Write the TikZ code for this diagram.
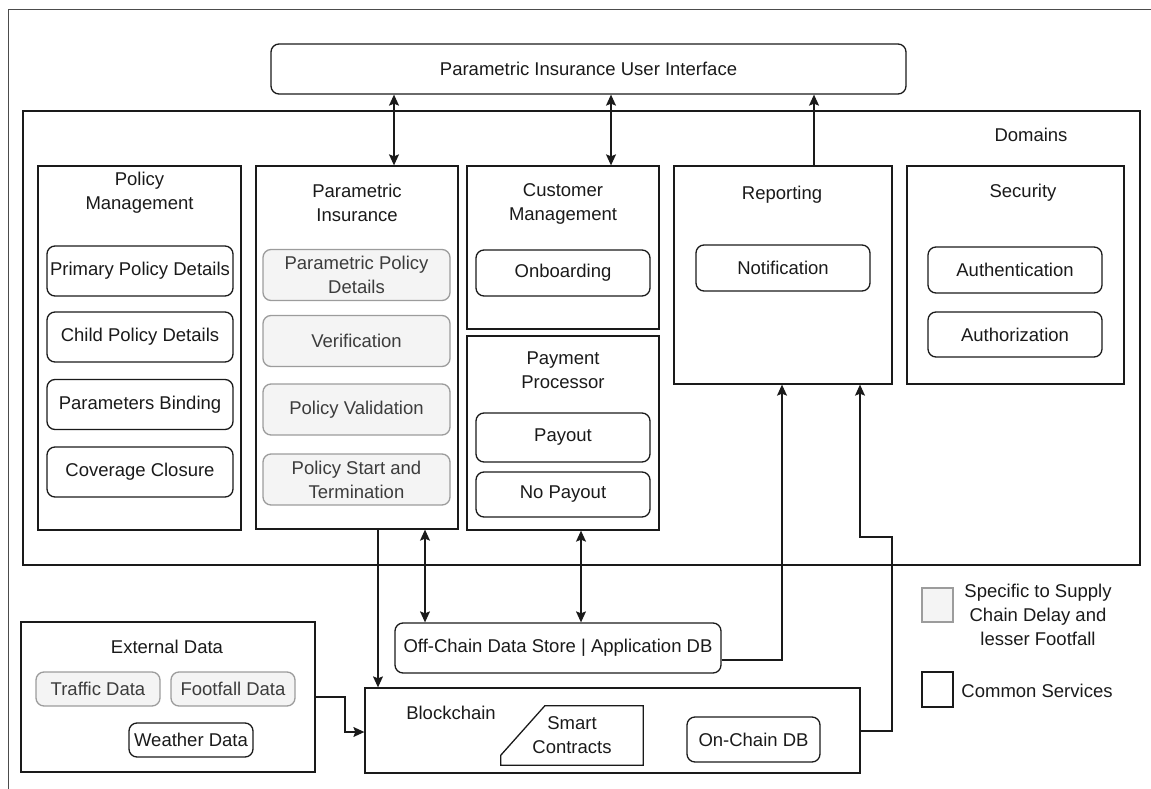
\documentclass[tikz,border=0pt]{standalone}
\usepackage{fontspec}
\setmainfont{Liberation Sans}
\usetikzlibrary{arrows.meta}

\definecolor{ink}{HTML}{1A1A1A}
\definecolor{specfill}{HTML}{F4F4F4}
\definecolor{specline}{HTML}{9C9C9C}
\definecolor{spectext}{HTML}{3C3C3C}

\tikzset{
  grp/.style={draw=ink, line width=1.3pt, inner sep=0pt},
  svc/.style={draw=ink, line width=1.3pt, rounded corners=8pt, align=center, inner sep=0pt},
  spec/.style={svc, draw=specline, fill=specfill, text=spectext},
  ttl/.style={align=center},
  arr/.style={-{Stealth[length=11pt,width=10pt,inset=2pt]}, line width=1.2pt, draw=ink},
  dbl/.style={{Stealth[length=11pt,width=10pt,inset=2pt]}-{Stealth[length=11pt,width=10pt,inset=2pt]}, line width=1.2pt, draw=ink},
}

\begin{document}
\begin{tikzpicture}[x=1pt, y=-1pt, font=\fontsize{18.5}{24}\selectfont, text=ink]
\useasboundingbox (0,0) rectangle (1151,789);
\draw[line width=1pt, black!70] (1151,10) -- (8,10) -- (8,789); % page frame

% top: user interface and the domains frame
\node[svc, minimum width=635pt, minimum height=50pt] (ui) at (588.5,69) {Parametric Insurance User Interface};
\node[grp, minimum width=1117pt, minimum height=454pt] (dom) at (581.5,338) {};
\node (domT) at (1031,135) {Domains};

% policy management
\node[grp, minimum width=203pt, minimum height=364pt] (pm) at (139.5,348) {};
\node[ttl] (pmT) at (139.5,193) {Policy\\Management};
\foreach \name/\y/\txt in {prim/271/Primary Policy Details, child/337/Child Policy Details,
    bind/404.5/Parameters Binding, cover/472/Coverage Closure}
  \node[svc, minimum width=186pt, minimum height=50pt] (\name) at (140,\y) {\txt};

% parametric insurance
\node[grp, minimum width=202pt, minimum height=363pt] (pi) at (357,347.5) {};
\node[ttl] (piT) at (357,203) {Parametric\\Insurance};
\foreach \name/\y/\txt in {ppd/275/{Parametric Policy\\Details}, verif/341/Verification,
    valid/409.5/Policy Validation, term/479.5/{Policy Start and\\Termination}}
  \node[spec, minimum width=187pt, minimum height=51pt] (\name) at (356.5,\y) {\txt};

% customer management + payment processor
\node[grp, minimum width=192pt, minimum height=163pt] (cm) at (563,247.5) {};
\node[ttl] (cmT) at (563,204) {Customer\\Management};
\node[svc, minimum width=174pt, minimum height=46pt] (onb) at (563,273) {Onboarding};
\node[grp, minimum width=192pt, minimum height=194pt] (pp) at (563,433) {};
\node[ttl] (ppT) at (563,370) {Payment\\Processor};
\node[svc, minimum width=174pt, minimum height=49pt] (pay) at (563,437.5) {Payout};
\node[svc, minimum width=174pt, minimum height=45pt] (nopay) at (563,494.5) {No Payout};

% reporting and security
\node[grp, minimum width=218pt, minimum height=218pt] (rep) at (783,275) {};
\node (repT) at (782,195) {Reporting};
\node[svc, minimum width=174pt, minimum height=46pt] (notif) at (783,268) {Notification};
\node[grp, minimum width=217pt, minimum height=218pt] (sec) at (1015.5,275) {};
\node (secT) at (1023,193) {Security};
\node[svc, minimum width=174pt, minimum height=46pt] (authn) at (1015,270) {Authentication};
\node[svc, minimum width=174pt, minimum height=45pt] (authz) at (1015,334.5) {Authorization};

% data stores and chain
\node[svc, minimum width=326pt, minimum height=50pt] (off) at (558,648) {Off-Chain Data Store | Application DB};
\node[grp, minimum width=495pt, minimum height=85pt] (bc) at (612.5,730.5) {};
\node (bcT) at (451,713) {Blockchain};
\node[align=center, minimum width=142pt, minimum height=59pt, inner sep=0pt] (sc) at (572,735.5) {Smart\\Contracts};
\draw[line width=1.3pt, ink] ([yshift=10pt]sc.south west) -- ([xshift=44pt]sc.north west)
  -- (sc.north east) -- (sc.south east) -- (sc.south west) -- cycle;
\node[svc, minimum width=133pt, minimum height=45pt] (onc) at (753.5,739.5) {On-Chain DB};

% external feeds
\node[grp, minimum width=294pt, minimum height=150pt] (ext) at (168,697) {};
\node (extT) at (167,647) {External Data};
\node[spec, minimum width=124pt, minimum height=34pt] (traffic) at (98,689) {Traffic Data};
\node[spec, minimum width=124pt, minimum height=34pt] (foot) at (233,689) {Footfall Data};
\node[svc, minimum width=124pt, minimum height=34pt] (weather) at (191,740) {Weather Data};

% legend
\node[spec, rounded corners=0pt, minimum width=31pt, minimum height=34pt] (lgSpec) at (937.5,605) {};
\node[ttl] (lgSpecT) at (1038,615) {Specific to Supply\\Chain Delay and\\lesser Footfall};
\node[grp, minimum width=31pt, minimum height=35pt] (lgCom) at (937.5,689.5) {};
\node (lgComT) at (1037,691) {Common Services};

% connectors
\draw[dbl] (ui.south -| 394,0) -- (pi.north -| 394,0);
\draw[dbl] (ui.south -| 611,0) -- (cm.north -| 611,0);
\draw[arr] (rep.north -| 814,0) -- (ui.south -| 814,0);
\draw[dbl] (pi.south -| 425,0) -- (off.north -| 425,0);
\draw[dbl] (pp.south -| 581,0) -- (off.north -| 581,0);
\draw[arr] (pi.south -| 378,0) -- (bc.north -| 378,0);
\draw[arr] (off.east |- 0,660) -| (rep.south -| 782,0);
\draw[arr] (ext.east |- 0,697) -- (345,697) |- (bc.west |- 0,732);
\draw[arr] (bc.east |- 0,731) -| (892,537) -| (rep.south -| 860,0);
\end{tikzpicture}
\end{document}
